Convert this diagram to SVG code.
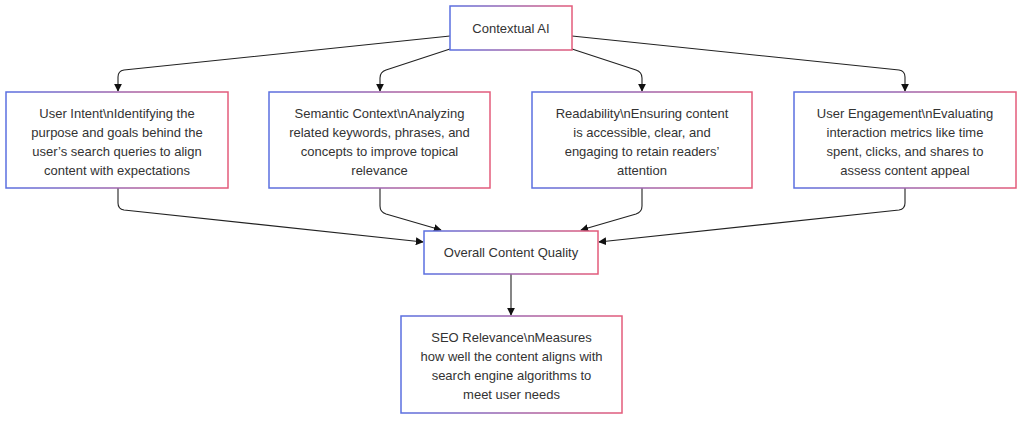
<svg xmlns="http://www.w3.org/2000/svg" width="1024" height="421" viewBox="0 0 1024 421">
<defs>
<linearGradient id="g" x1="0" y1="0" x2="1" y2="0">
<stop offset="0" stop-color="#5a6fe0"/>
<stop offset="1" stop-color="#e35b7a"/>
</linearGradient>
<marker id="arr" viewBox="0 0 10 10" refX="9" refY="5" markerWidth="8" markerHeight="8" markerUnits="userSpaceOnUse" orient="auto">
<path d="M0,0 L10,5 L0,10 z" fill="#111"/>
</marker>
<style>
.box{fill:#fff;stroke:url(#g);stroke-width:1.5}
.t{font-family:"Liberation Sans",Arial,sans-serif;font-size:13px;fill:#333;text-anchor:middle}
.e{fill:none;stroke:#222;stroke-width:1.1;marker-end:url(#arr)}
</style>
</defs>
<rect width="1024" height="421" fill="#fff"/>
<g id="connectors">
<path class="e" d="M450,36 L124,70 Q118,71 118,77 L118,91"/>
<path class="e" d="M450,49 L386,70 Q380,72 380,78 L380,91"/>
<path class="e" d="M572,49 L636,70 Q642,72 642,78 L642,91"/>
<path class="e" d="M572,36 L899,70 Q905,71 905,77 L905,91"/>
<path class="e" d="M118,188 L118,203 Q118,209 124,210 L423,242"/>
<path class="e" d="M380,188 L380,206 Q380,212 386,214 L441,230"/>
<path class="e" d="M642,188 L642,206 Q642,212 636,214 L581,230"/>
<path class="e" d="M905,188 L905,203 Q905,209 899,210 L599,242"/>
<path class="e" d="M511,274 L511,315"/>
</g>
<g id="contextual-ai">
<rect class="box" x="450" y="6" width="122" height="44"/>
<text class="t" x="511" y="33">Contextual AI</text>
</g>
<g id="user-intent">
<rect class="box" x="6" y="92" width="222" height="96"/>
<text class="t" x="117" y="118">User Intent\nIdentifying the</text>
<text class="t" x="117" y="137">purpose and goals behind the</text>
<text class="t" x="117" y="156">user’s search queries to align</text>
<text class="t" x="117" y="175">content with expectations</text>
</g>
<g id="semantic-context">
<rect class="box" x="269" y="92" width="221" height="96"/>
<text class="t" x="379.5" y="118">Semantic Context\nAnalyzing</text>
<text class="t" x="379.5" y="137">related keywords, phrases, and</text>
<text class="t" x="379.5" y="156">concepts to improve topical</text>
<text class="t" x="379.5" y="175">relevance</text>
</g>
<g id="readability">
<rect class="box" x="532" y="92" width="220" height="96"/>
<text class="t" x="642" y="118">Readability\nEnsuring content</text>
<text class="t" x="642" y="137">is accessible, clear, and</text>
<text class="t" x="642" y="156">engaging to retain readers’</text>
<text class="t" x="642" y="175">attention</text>
</g>
<g id="user-engagement">
<rect class="box" x="794" y="92" width="222" height="96"/>
<text class="t" x="905" y="118">User Engagement\nEvaluating</text>
<text class="t" x="905" y="137">interaction metrics like time</text>
<text class="t" x="905" y="156">spent, clicks, and shares to</text>
<text class="t" x="905" y="175">assess content appeal</text>
</g>
<g id="overall-content-quality">
<rect class="box" x="424" y="231" width="174" height="43"/>
<text class="t" x="511" y="257">Overall Content Quality</text>
</g>
<g id="seo-relevance">
<rect class="box" x="401" y="316" width="221" height="97"/>
<text class="t" x="511.5" y="342">SEO Relevance\nMeasures</text>
<text class="t" x="511.5" y="361">how well the content aligns with</text>
<text class="t" x="511.5" y="380">search engine algorithms to</text>
<text class="t" x="511.5" y="399">meet user needs</text>
</g>
</svg>
